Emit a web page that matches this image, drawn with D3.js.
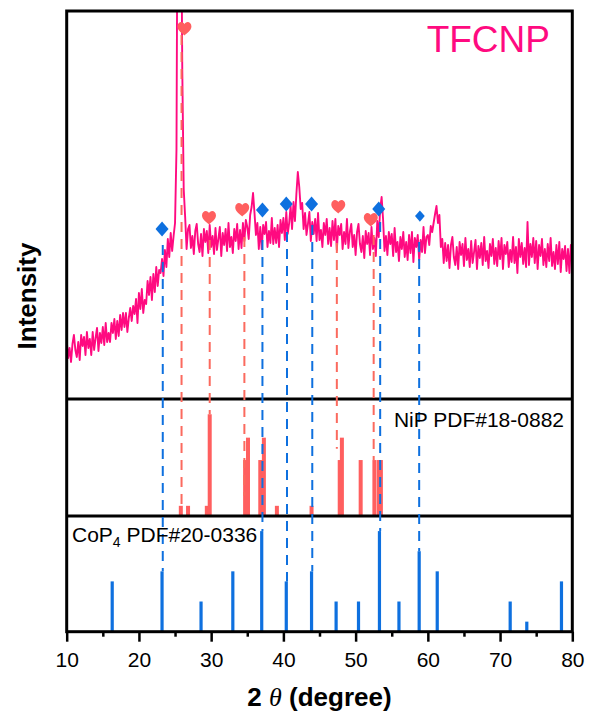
<!DOCTYPE html>
<html>
<head>
<meta charset="utf-8">
<style>
body { margin: 0; background: #fff; }
svg { display: block; font-family: "Liberation Sans", Arial, sans-serif; }
.frame { fill: none; stroke: #000; stroke-width: 3; }
.axis path { display: none; }
.axis line { stroke: #000; stroke-width: 2.5; }
.axis text { font-size: 21px; fill: #000; font-family: "Liberation Sans", Arial, sans-serif; }
.guide { stroke-width: 2; stroke-dasharray: 10,7; fill: none; }
</style>
</head>
<body>
<svg width="590" height="721"></svg>
<script src="https://cdn.jsdelivr.net/npm/d3@7/dist/d3.min.js"></script>
<script>

// measured pattern, one value every 0.2 degree from 10 to 80
var thetaStart = 10,
    thetaStep = 0.2;

var counts = [
  59, 41, 51, 37, 55,   64, 49, 42, 57, 39,   64, 53, 62, 44, 67,   51, 60, 44, 67, 49,
  61, 71, 48, 66, 56,   72, 54, 76, 57, 66,   57, 76, 66, 80, 60,   78, 63, 84, 69, 86,
  72, 86, 67, 81, 91,   78, 93, 85, 100, 76,  106, 90, 110, 86, 99,  95, 118, 104, 122, 99,
  125, 107, 132, 113, 129, 126, 140, 123, 149, 132, 160, 142, 166, 148, 163,
  176, 250, 620, 640, 560, 330, 210, 182, 150, 170,
  174, 151, 163, 145, 168, 175, 155, 147, 165, 143, 170, 157, 168, 146, 174,
  152, 163, 145, 171, 149, 160, 172, 143, 166, 154, 170, 148, 176, 152, 162,
  146, 170, 158, 175, 150, 169, 151, 176, 158, 179, 172, 160, 184, 192, 206,
  186, 164, 176, 150, 172, 150, 174, 165, 177, 152, 168, 156, 181, 155, 171,
  156, 174, 152, 179, 166, 181, 159, 187, 165, 176, 193, 170, 197, 178, 205,
  227, 212, 190, 196, 170, 186, 164, 175, 187, 158, 177, 165, 180, 158, 186,
  159, 169, 152, 176, 164, 180, 155, 171, 153, 178, 159, 180, 149, 173, 164,
  175, 150, 167, 155, 180, 151, 167, 175, 152, 164, 144, 167, 175, 155, 147,
  163, 141, 168, 155, 166, 144, 172, 150, 161, 143, 178, 162, 190, 202, 180,
  148, 163, 144, 167, 155, 165, 143, 171, 147, 157, 138, 162, 150, 167, 142,
  157, 139, 164, 146, 167, 137, 161, 152, 164, 139, 159, 147, 172, 146, 162,
  164, 154, 173, 167, 176, 185, 193, 176, 184, 152, 160, 136, 156, 138, 154,
  131, 154, 162, 142, 134, 152, 130, 157, 144, 155, 133, 161, 139, 150, 132,
  158, 136, 147, 159, 130, 153, 141, 156, 134, 162, 138, 148, 131, 155, 143,
  160, 135, 151, 133, 158, 140, 161, 130, 154, 145, 157, 132, 149, 137, 162,
  136, 152, 126, 160, 142, 156, 135, 151, 132, 177, 134, 155, 142, 161, 136,
  158, 130, 154, 143, 160, 134, 150, 132, 155, 138, 161, 133, 147, 130, 154,
  135, 157, 127, 150, 140, 153, 128, 150, 126, 154, 134
];

// NiP PDF#18-0882
var nipAngles    = [25.8, 26.8, 29.4, 29.8, 34.7, 35.1, 36.8, 37.3, 39.1, 43.9, 47.8, 48.1, 50.7, 52.6, 53.2, 53.5];
var nipIntensity = [10, 10, 10, 100, 55, 77, 55, 77, 10, 10, 55, 77, 55, 55, 55, 55];

// CoP4 PDF#20-0336
var copAngles    = [16.3, 23.2, 28.6, 33.0, 37.0, 40.4, 43.9, 47.3, 50.4, 53.3, 56.0, 58.8, 61.3, 71.4, 73.7, 78.5];
var copIntensity = [50, 60, 30, 60, 100, 50, 60, 30, 30, 100, 30, 80, 60, 30, 10, 50];

// peak markers on the pattern
var heartAngles   = [26.3, 29.7, 34.3, 47.6, 52.1];
var heartLevels   = [370, 181, 189, 192, 179];
var diamondAngles = [23.2, 37.1, 40.4, 43.9, 53.2, 58.9];
var diamondLevels = [170, 189, 195, 195, 190, 183];

// dashed guides: angle, start on pattern, end on reference bar
var nipGuideAngles = [25.9, 29.8, 34.6, 47.4, 52.5];
var nipGuideFrom   = [364, 159, 162, 156, 164];
var nipGuideTo     = [10, 100, 20, 66, 55];
var copGuideAngles = [23.3, 37.1, 40.5, 44.0, 53.4, 58.8];
var copGuideFrom   = [154, 159, 167, 174, 177, 157];
var copGuideTo     = [60, 100, 50, 60, 100, 80];

var majorTicks = [10, 20, 30, 40, 50, 60, 70, 80];
var minorTicks = [15, 25, 35, 45, 55, 65, 75];

var pink = "#ff0a80",
    salmon = "#ff5f5f",
    blue = "#0e70df";

var svg = d3.select("svg");

var plotLeft = 66.7, plotRight = 572.3,
    plotTop = 11, cut1 = 399, cut2 = 516, plotBottom = 631.7;

var x = d3.scaleLinear().domain([10, 80]).range([plotLeft, plotRight]);
var yTop = d3.scaleLinear().domain([0, 388]).range([cut1, plotTop]);
var yNip = d3.scaleLinear().domain([0, 115]).range([cut2, cut1]);
var yCop = d3.scaleLinear().domain([0, 115]).range([plotBottom, cut2]);

svg.append("clipPath").attr("id", "topclip")
  .append("rect")
    .attr("x", plotLeft).attr("y", plotTop)
    .attr("width", plotRight - plotLeft).attr("height", cut1 - plotTop);

var pattern = counts.map(function(c, i) { return [thetaStart + i * thetaStep, c]; });

var line = d3.line()
    .x(function(d) { return x(d[0]); })
    .y(function(d) { return yTop(d[1]); });

svg.append("path")
    .datum(pattern)
    .attr("clip-path", "url(#topclip)")
    .attr("fill", "none")
    .attr("stroke", pink)
    .attr("stroke-width", 1.9)
    .attr("stroke-linejoin", "round")
    .attr("d", line);

// reference bars
svg.append("g").selectAll("rect")
    .data(d3.zip(nipAngles, nipIntensity))
  .enter().append("rect")
    .attr("x", function(d) { return x(d[0]) - 2; })
    .attr("y", function(d) { return yNip(d[1]); })
    .attr("width", 4)
    .attr("height", function(d) { return yNip(0) - yNip(d[1]); })
    .attr("fill", salmon);

svg.append("g").selectAll("rect")
    .data(d3.zip(copAngles, copIntensity))
  .enter().append("rect")
    .attr("x", function(d) { return x(d[0]) - 1.6; })
    .attr("y", function(d) { return yCop(d[1]); })
    .attr("width", 3.2)
    .attr("height", function(d) { return yCop(0) - yCop(d[1]); })
    .attr("fill", blue);

// frame and panel separators
svg.append("rect").attr("class", "frame")
    .attr("x", plotLeft).attr("y", plotTop)
    .attr("width", plotRight - plotLeft).attr("height", plotBottom - plotTop);
[cut1, cut2].forEach(function(yy) {
  svg.append("line").attr("class", "frame")
      .attr("x1", plotLeft).attr("x2", plotRight)
      .attr("y1", yy).attr("y2", yy);
});

// guides
svg.append("g").selectAll("line")
    .data(d3.zip(nipGuideAngles, nipGuideFrom, nipGuideTo))
  .enter().append("line")
    .attr("class", "guide")
    .attr("stroke", "#fb6a5e")
    .attr("x1", function(d) { return x(d[0]); })
    .attr("x2", function(d) { return x(d[0]); })
    .attr("y1", function(d) { return yTop(d[1]); })
    .attr("y2", function(d) { return yNip(d[2]); });

svg.append("g").selectAll("line")
    .data(d3.zip(copGuideAngles, copGuideFrom, copGuideTo))
  .enter().append("line")
    .attr("class", "guide")
    .attr("stroke", blue)
    .attr("x1", function(d) { return x(d[0]); })
    .attr("x2", function(d) { return x(d[0]); })
    .attr("y1", function(d) { return yTop(d[1]); })
    .attr("y2", function(d) { return yCop(d[2]); });

// markers
var heart = "M0,6.5 C-1.5,5 -7,1.5 -7,-2.5 C-7,-5.5 -5,-7 -3.3,-7 C-1.7,-7 -0.5,-6 0,-4.8 " +
            "C0.5,-6 1.7,-7 3.3,-7 C5,-7 7,-5.5 7,-2.5 C7,1.5 1.5,5 0,6.5 Z";
var diamond = "M0,-7.5 L6.5,0 L0,7.5 L-6.5,0 Z";

svg.append("g").selectAll("path")
    .data(d3.zip(heartAngles, heartLevels))
  .enter().append("path")
    .attr("d", heart)
    .attr("fill", salmon)
    .attr("transform", function(d) { return "translate(" + x(d[0]) + "," + yTop(d[1]) + ")"; });

svg.append("g").selectAll("path")
    .data(d3.zip(diamondAngles, diamondLevels))
  .enter().append("path")
    .attr("d", diamond)
    .attr("fill", blue)
    .attr("transform", function(d, i) {
      var s = i === diamondAngles.length - 1 ? 0.75 : 1;
      return "translate(" + x(d[0]) + "," + yTop(d[1]) + ") scale(" + s + ")";
    });

// x axis
svg.append("g").attr("class", "axis")
    .attr("transform", "translate(0," + plotBottom + ")")
    .call(d3.axisBottom(x).tickValues(majorTicks).tickSize(10).tickPadding(10.5).tickFormat(d3.format("d")));
svg.append("g").attr("class", "axis")
    .attr("transform", "translate(0," + plotBottom + ")")
    .call(d3.axisBottom(x).tickValues(minorTicks).tickSize(5).tickFormat(""));

// texts
svg.append("text")
    .attr("x", 550).attr("y", 52)
    .attr("text-anchor", "end")
    .attr("font-size", 37)
    .attr("fill", pink)
    .text("TFCNP");

svg.append("text")
    .attr("x", 564).attr("y", 427)
    .attr("text-anchor", "end")
    .attr("font-size", 21)
    .text("NiP PDF#18-0882");

var cop = svg.append("text")
    .attr("x", 72).attr("y", 542)
    .attr("font-size", 21);
cop.append("tspan").text("CoP");
cop.append("tspan").attr("font-size", 14).attr("dy", 5).text("4");
cop.append("tspan").attr("dy", -5).text(" PDF#20-0336");

svg.append("text")
    .attr("transform", "translate(36,296) rotate(-90)")
    .attr("text-anchor", "middle")
    .attr("font-size", 26)
    .attr("font-weight", "bold")
    .text("Intensity");

var xt = svg.append("text")
    .attr("x", (plotLeft + plotRight) / 2).attr("y", 706)
    .attr("text-anchor", "middle")
    .attr("font-size", 26)
    .attr("font-weight", "bold");
xt.append("tspan").text("2 ");
xt.append("tspan")
    .attr("font-family", "'Liberation Serif', 'DejaVu Serif', serif")
    .attr("font-style", "italic")
    .attr("font-weight", "normal")
    .text("θ");
xt.append("tspan").text(" (degree)");

</script>
</body>
</html>
